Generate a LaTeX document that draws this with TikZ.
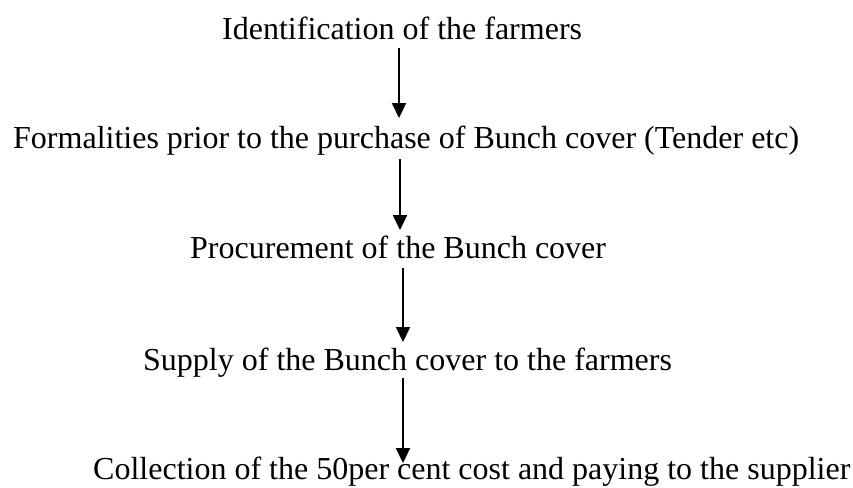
\documentclass[tikz,border=0pt]{standalone}
\usepackage{fontspec}
\setmainfont{Liberation Serif}
\usetikzlibrary{arrows.meta}
\begin{document}
\begin{tikzpicture}[x=1pt,y=-1pt,
  stagetext/.style={inner sep=0pt,anchor=base west,font=\fontsize{32pt}{38pt}\selectfont},
  flowarrow/.style={line width=2.2pt,-{Triangle[length=15pt,width=14pt]}}]
  \useasboundingbox (0,0) rectangle (853,487);
  % flow stages, placed by their baselines
  \node[stagetext] (s1) at (222,40)  {Identification of the farmers};
  \node[stagetext] (s2) at (13,148)  {Formalities prior to the purchase of Bunch cover (Tender etc)};
  \node[stagetext] (s3) at (190,258) {Procurement of the Bunch cover};
  \node[stagetext] (s4) at (143,370) {Supply of the Bunch cover to the farmers};
  \node[stagetext] (s5) at (93,479)  {Collection of the 50per cent cost and paying to the supplier};
  % arrow ends between the stages
  \coordinate (a1top) at (399,48);  \coordinate (a1tip) at (399,118);
  \coordinate (a2top) at (400,159); \coordinate (a2tip) at (400,230);
  \coordinate (a3top) at (403,268); \coordinate (a3tip) at (403,342);
  \coordinate (a4top) at (403,378); \coordinate (a4tip) at (403,463);
  \draw[flowarrow] (a1top) -- (a1tip);
  \draw[flowarrow] (a2top) -- (a2tip);
  \draw[flowarrow] (a3top) -- (a3tip);
  \draw[flowarrow] (a4top) -- (a4tip);
\end{tikzpicture}
\end{document}
